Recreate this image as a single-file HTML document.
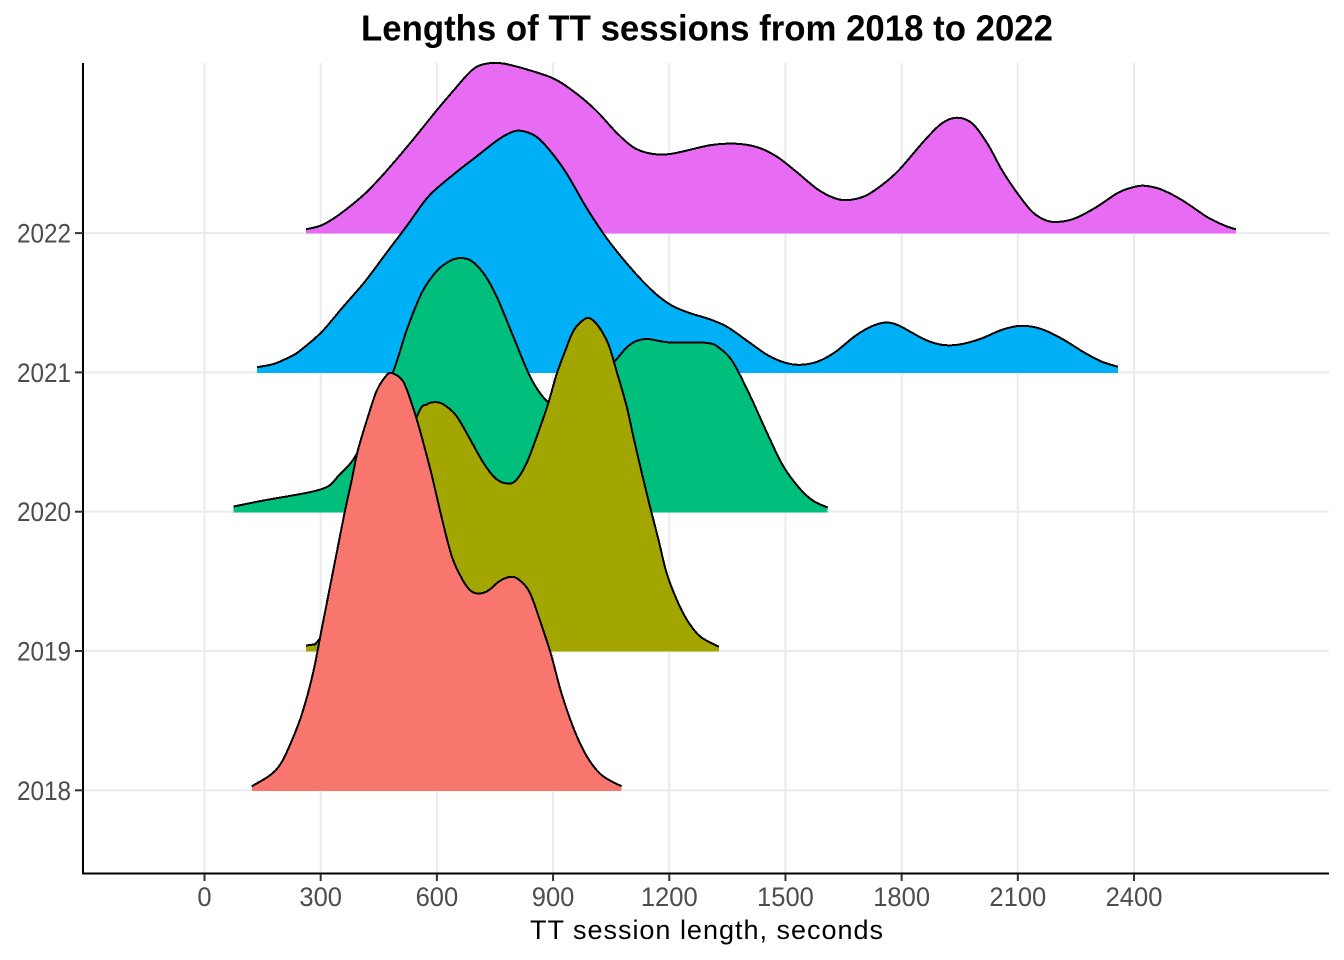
<!DOCTYPE html>
<html lang="en">
<head>
<meta charset="utf-8">
<title>Lengths of TT sessions from 2018 to 2022</title>
<style>
html,body{margin:0;padding:0;background:#fff;}
svg{display:block;font-family:"Liberation Sans",sans-serif;}
</style>
</head>
<body>
<svg id="chart" xmlns="http://www.w3.org/2000/svg" width="1344" height="960" viewBox="0 0 1344 960">
  <text x="707" y="40.5" text-anchor="middle" font-size="36" font-weight="700" fill="#000" textLength="692" lengthAdjust="spacingAndGlyphs">Lengths of TT sessions from 2018 to 2022</text>
  <g id="grid"></g>
  <g id="ridges"></g>
  <line x1="83" y1="63" x2="83" y2="874.5" stroke="#000" stroke-width="2"/>
  <line x1="82" y1="873.5" x2="1329" y2="873.5" stroke="#000" stroke-width="2"/>
  <g id="ticks"></g>
  <text x="706.5" y="939" text-anchor="middle" font-size="27" fill="#000" textLength="353" lengthAdjust="spacing">TT session length, seconds</text>
</svg>
<script>
const categories = ['2018', '2019', '2020', '2021', '2022'];
const xTickValues = [0, 300, 600, 900, 1200, 1500, 1800, 2100, 2400];
const fillColors = ['#F8766D', '#A3A500', '#00BF7D', '#00B0F6', '#E76BF3'];

const seconds2018 = [122,169,197,224,252,280,302,324,346,363,380,396,424,445,468,482,507,523,551,579,590,612,639,667,689,711,734,761,789,811,839,866,894,922,955,988,1026,1077];
const density2018 = [2,7.5,13.4,24.2,38.4,58.4,80,101.7,123.4,140,155,170,188,200,207,208.7,205.9,200,183.5,163.5,155,136.7,116.7,105,99.5,98.4,100,104.5,106.7,105.4,99.2,85,68.4,48.4,30,16.7,7.5,2];

const seconds2019 = [262,280,296,376,466,548,574,600,621,651,686,720,750,776,802,832,866,888,909,931,952,974,994,1017,1043,1064,1090,1107,1129,1150,1172,1193,1219,1245,1279,1328];
const density2019 = [2.8,3.3,5.8,27.5,75,117.1,123.3,124.4,122.8,117.4,105.8,94.1,86.6,83.9,84.9,94.1,111.6,124.1,138.3,149.9,159.9,164.9,166.4,162.4,153.3,139.9,122.4,107.4,89.1,72.4,55.8,39.1,25.8,15.8,7.4,2.1];

const seconds2020 = [75,158,247,296,324,346,385,427,487,523,562,600,634,661,689,722,755,800,844,888,932,995,1060,1090,1116,1146,1202,1297,1331,1365,1409,1452,1494,1538,1572,1609];
const density2020 = [2.6,5.8,8.8,10.9,13.3,18,26.3,42.5,69.9,91.3,109.8,120.4,125.4,126.8,125.4,118.8,107.3,86.3,66.3,54.6,52,62.5,75.4,82.1,85.4,86.3,84.6,84.4,81.6,74.6,57.9,39.6,22.9,11.3,5.4,2.1];

const seconds2021 = [136,180,224,247,302,357,413,468,523,579,645,700,755,789,817,855,888,933,988,1043,1110,1165,1207,1251,1307,1351,1406,1456,1500,1539,1583,1628,1682,1727,1760,1793,1860,1904,1948,2004,2059,2108,2159,2214,2270,2314,2358];
const density2021 = [2.6,4.3,8.1,10.9,20.1,32.6,45.1,59.3,73.4,88.1,99.3,107.6,115.9,119.8,120.8,118.1,111.8,100.1,81.8,65.9,50.1,39.3,33.4,29.8,26.4,22.6,15.1,8.4,4.8,3.8,5.4,10.1,18.5,23.4,24.9,23.4,16.4,13.8,13.9,16.8,21.3,23.3,21.8,16.8,10.1,5.6,2.8];

const seconds2022 = [262,302,346,413,468,534,600,644,689,722,767,822,900,954,1010,1065,1109,1154,1207,1307,1372,1428,1478,1528,1583,1628,1661,1705,1749,1793,1860,1904,1943,1982,2021,2059,2093,2137,2175,2209,2248,2302,2359,2397,2425,2469,2524,2590,2635,2663];
const density2022 = [1.9,3.9,9,19.5,30.7,45.7,61.5,71.5,81.2,84.5,84.9,82.4,77.4,70.7,61.5,50,42.7,39.7,39.7,44,44.7,42.9,38.2,30.7,21.9,17.4,16.5,18.5,24,31.5,46.5,54.9,57.7,54.9,44.9,31.5,21.5,10.7,6.2,5.7,7.4,12.9,20.2,22.9,23.7,21.9,16.5,7.9,3.7,1.9];

const secondsByYear = [seconds2018, seconds2019, seconds2020, seconds2021, seconds2022];
const densityByYear = [density2018, density2019, density2020, density2021, density2022];

const SVG_NS = 'http://www.w3.org/2000/svg';
const panelLeft = 83, panelRight = 1329, panelTop = 63, panelBottom = 873;

function xScale(seconds) { return 204.5 + seconds * 0.3873; }
function yBase(index) { return 790.3 - index * 139.3; }
function heightScale(density) { return density * 2; }

function make(tag, attrs, parent) {
  const el = document.createElementNS(SVG_NS, tag);
  for (const key in attrs) el.setAttribute(key, attrs[key]);
  parent.appendChild(el);
  return el;
}

function curvePath(points) {
  let d = 'M' + points[0][0].toFixed(2) + ' ' + points[0][1].toFixed(2);
  for (let i = 0; i < points.length - 1; i++) {
    const p0 = points[Math.max(i - 1, 0)];
    const p1 = points[i];
    const p2 = points[i + 1];
    const p3 = points[Math.min(i + 2, points.length - 1)];
    const c1x = p1[0] + (p2[0] - p0[0]) / 6;
    const c1y = p1[1] + (p2[1] - p0[1]) / 6;
    const c2x = p2[0] - (p3[0] - p1[0]) / 6;
    const c2y = p2[1] - (p3[1] - p1[1]) / 6;
    d += 'C' + c1x.toFixed(2) + ' ' + c1y.toFixed(2) + ' ' + c2x.toFixed(2) + ' ' + c2y.toFixed(2) + ' ' + p2[0].toFixed(2) + ' ' + p2[1].toFixed(2);
  }
  return d;
}

const gridGroup = document.getElementById('grid');
const ridgeGroup = document.getElementById('ridges');
const tickGroup = document.getElementById('ticks');

xTickValues.forEach(function (value) {
  const x = xScale(value);
  const gridLine = make('line', {x1: x, y1: panelTop, x2: x, y2: panelBottom, stroke: '#ebebeb', 'stroke-width': 2}, gridGroup);
  
  
  const tick = make('line', {x1: x, y1: 874, x2: x, y2: 881, stroke: '#333', 'stroke-width': 2}, tickGroup);
  
  
  const label = make('text', {x: x, y: 906, 'text-anchor': 'middle', 'font-size': 27, fill: '#4d4d4d', textLength: String(value).length * 14.2, lengthAdjust: 'spacingAndGlyphs'}, tickGroup);
  
  
  label.textContent = value;
});

categories.forEach(function (year, index) {
  const y = yBase(index);
  const gridLine = make('line', {x1: panelLeft, y1: y, x2: panelRight, y2: y, stroke: '#ebebeb', 'stroke-width': 2}, gridGroup);
  
  
  const tick = make('line', {x1: 75, y1: y, x2: 83, y2: y, stroke: '#333', 'stroke-width': 2}, tickGroup);
  
  
  const label = make('text', {x: 71, y: y + 9.5, 'text-anchor': 'end', 'font-size': 27, fill: '#4d4d4d', textLength: 54, lengthAdjust: 'spacingAndGlyphs'}, tickGroup);
  
  
  label.textContent = year;
});

for (let index = categories.length - 1; index >= 0; index--) {
  const year = categories[index];
  const base = yBase(index);
  const seconds = secondsByYear[index];
  const density = densityByYear[index];
  const points = seconds.map(function (s, i) { return [xScale(s), base - heightScale(density[i])]; });
  const top = curvePath(points);
  const last = points[points.length - 1];
  const group = make('g', {}, ridgeGroup);
  
  
  const area = make('path', {d: top + 'L' + last[0].toFixed(2) + ' ' + (base + 0.6).toFixed(2) + 'L' + points[0][0].toFixed(2) + ' ' + (base + 0.6).toFixed(2) + 'Z', fill: fillColors[index], stroke: 'none', 'shape-rendering': 'crispEdges'}, group);
  
  
  const outline = make('path', {d: top, fill: 'none', stroke: '#000', 'stroke-width': 2, 'stroke-linejoin': 'round', 'shape-rendering': 'crispEdges'}, group);
  
  
}
</script>
</body>
</html>
